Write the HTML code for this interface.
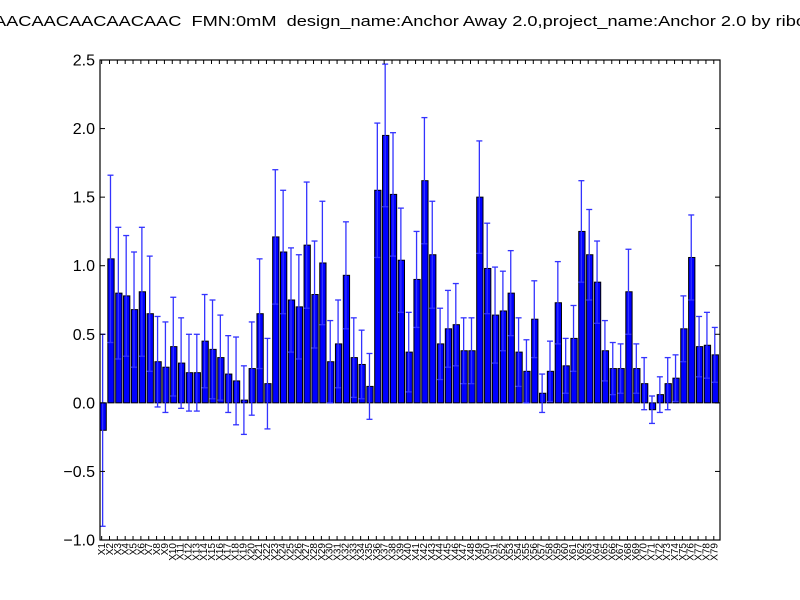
<!DOCTYPE html>
<html><head><meta charset="utf-8"><style>
html,body{margin:0;padding:0;background:#fff;}
svg{display:block;font-family:"Liberation Sans","DejaVu Sans",sans-serif;}
</style></head><body>
<svg id="chart" width="800" height="600" viewBox="0 0 800 600">
<rect width="800" height="600" fill="#fff"/>
<text x="-6" y="26" font-size="15" xml:space="preserve" style="white-space:pre" textLength="812" lengthAdjust="spacingAndGlyphs">AACAACAACAACAAC  FMN:0mM  design_name:Anchor Away 2.0,project_name:Anchor 2.0 by ribo</text>
<g id="marks"></g>
<rect x="100" y="60" width="620" height="480" fill="none" stroke="#000" stroke-width="1.2"/>
<g id="axes"></g>
</svg>
<script>
const categories = Array.from({length:79},(_,i)=>'X'+(i+1));
const values = [-0.2,1.05,0.80,0.78,0.68,0.81,0.65,0.30,0.26,0.41,0.29,0.22,0.22,0.45,0.39,0.33,0.21,0.16,0.02,0.25,0.65,0.14,1.21,1.10,0.75,0.70,1.15,0.79,1.02,0.30,0.43,0.93,0.33,0.28,0.12,1.55,1.95,1.52,1.04,0.37,0.90,1.62,1.08,0.43,0.54,0.57,0.38,0.38,1.50,0.98,0.64,0.67,0.80,0.37,0.23,0.61,0.07,0.23,0.73,0.27,0.47,1.25,1.08,0.88,0.38,0.25,0.25,0.81,0.25,0.14,-0.05,0.06,0.14,0.18,0.54,1.06,0.41,0.42,0.35];
const errors = [0.70,0.61,0.48,0.44,0.42,0.47,0.42,0.33,0.33,0.36,0.33,0.28,0.28,0.34,0.36,0.31,0.28,0.32,0.25,0.34,0.40,0.33,0.49,0.45,0.38,0.38,0.46,0.39,0.45,0.30,0.32,0.39,0.29,0.25,0.24,0.49,0.52,0.45,0.38,0.29,0.35,0.46,0.39,0.26,0.28,0.30,0.24,0.24,0.41,0.33,0.35,0.29,0.31,0.25,0.23,0.28,0.14,0.22,0.30,0.20,0.24,0.37,0.33,0.30,0.22,0.19,0.18,0.31,0.18,0.19,0.10,0.13,0.19,0.17,0.24,0.31,0.22,0.24,0.20];
const yTicks = [-1.0,-0.5,0.0,0.5,1.0,1.5,2.0,2.5];
const yTickLabels = ['\u22121.0','\u22120.5','0.0','0.5','1.0','1.5','2.0','2.5'];

const NS='http://www.w3.org/2000/svg';
const X0=100,X1=720,Y0=540,Y1=60,YMIN=-1,YMAX=2.5;
const slot=(X1-X0)/categories.length;
function xs(i){return X0+i*slot;}
function ys(v){return Y0-(v-YMIN)/(YMAX-YMIN)*(Y0-Y1);}
function mk(tag,attrs,parent){const e=document.createElementNS(NS,tag);for(const k in attrs)e.setAttribute(k,attrs[k]);parent.appendChild(e);return e;}
const marks=document.getElementById('marks'), axes=document.getElementById('axes');
const bw=slot*0.8;
values.forEach((v,i)=>{
  const x=xs(i), y=ys(Math.max(v,0)), h=Math.abs(ys(v)-ys(0));
  const r=mk('rect',{x:x,y:y,width:bw,height:h,fill:'#0000ff',stroke:'#000','stroke-width':1},marks);
  
  
});
values.forEach((v,i)=>{
  const cx=xs(i)+bw/2-0.5, e=errors[i];
  const g=mk('g',{stroke:'#3333ff','stroke-width':1.3},marks);
  
  
  mk('line',{x1:cx,x2:cx,y1:ys(v+e),y2:ys(v-e)},g);
  mk('line',{x1:cx-3,x2:cx+3,y1:ys(v+e),y2:ys(v+e)},g);
  mk('line',{x1:cx-3,x2:cx+3,y1:ys(v-e),y2:ys(v-e)},g);
});
yTicks.forEach((t,i)=>{
  const y=ys(t);
  mk('line',{x1:X0,x2:X0+5,y1:y,y2:y,stroke:'#000'},axes);
  mk('line',{x1:X1-5,x2:X1,y1:y,y2:y,stroke:'#000'},axes);
  const tx=mk('text',{x:X0-5,y:y+5.5,'font-size':16,'text-anchor':'end'},axes);
  tx.textContent=yTickLabels[i];
  
  
});
categories.forEach((c,i)=>{
  const x=xs(i)+bw/2-1.5;
  mk('line',{x1:x,x2:x,y1:Y0,y2:Y0-4,stroke:'#000'},axes);
  mk('line',{x1:x,x2:x,y1:Y1,y2:Y1+4,stroke:'#000'},axes);
  const tx=mk('text',{x:0,y:0,'font-size':10,'text-anchor':'end',transform:'translate('+(x+3.5)+','+(Y0+3)+') rotate(-90)'},axes);
  tx.textContent=c;
  
  
});
</script>
</body></html>
